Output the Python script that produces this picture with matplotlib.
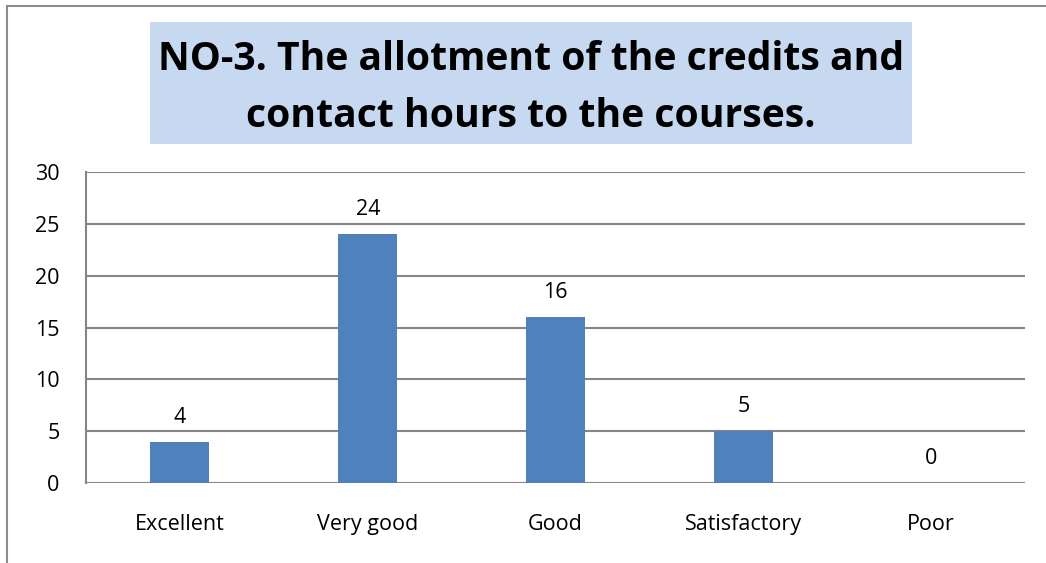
import numpy as np
import matplotlib
matplotlib.use('Agg')
import matplotlib.pyplot as plt
from matplotlib.patches import Rectangle

categories = ['Excellent', 'Very good', 'Good', 'Satisfactory', 'Poor']
counts = [4, 24, 16, 5, 0]
yticks = [0, 5, 10, 15, 20, 25, 30]
title = 'NO-3. The allotment of the credits and\ncontact hours to the courses.'

plt.rcParams['font.family'] = ['Open Sans', 'DejaVu Sans']

W, H = 1046, 563
fig = plt.figure(figsize=(W / 100, H / 100), dpi=100)

def px(x0, y0, x1, y1):
    # pixel box (top-left origin) -> figure fraction rect
    return [x0 / W, 1 - y1 / H, (x1 - x0) / W, (y1 - y0) / H]

# outer chart border (only left and top visible in the crop)
fig.patches.append(Rectangle((6.5 / W, -0.1), 1.2, 1 - 6.5 / H + 0.1,
                             transform=fig.transFigure, fill=False,
                             edgecolor='#8c8c8c', linewidth=1.5))

# title box
b = px(150, 22, 912, 144)
fig.patches.append(Rectangle((b[0], b[1]), b[2], b[3], transform=fig.transFigure,
                             facecolor='#c6d9f1', edgecolor='none'))
fig.text(531 / W, 1 - 88 / H, title, ha='center', va='center', fontsize=28.2,
         fontweight='bold', linespacing=1.6)

ax = fig.add_axes(px(86, 172, 1025, 483))
x = np.arange(len(categories))
bars = ax.bar(x, counts, width=0.315, color='#4f81bd', zorder=3)
for xi, v in zip(x, counts):
    ax.annotate(str(v), (xi, v), xytext=(0, 10), textcoords='offset points',
                ha='center', va='bottom', fontsize=15.5)

ax.set_xlim(-0.5, len(categories) - 0.5)
ax.set_ylim(0, 30)
ax.set_yticks(yticks)
ax.set_xticks(x)
ax.set_xticklabels(categories, fontsize=15.5)
ax.tick_params(axis='y', labelsize=15.5, length=0, pad=19)
ax.tick_params(axis='x', length=0, pad=22)
ax.grid(axis='y', color='#868686', linewidth=1.5, zorder=0)
for s in ['top', 'right', 'bottom']:
    ax.spines[s].set_visible(False)
ax.spines['left'].set_color('#868686')
ax.spines['left'].set_linewidth(1.5)

fig.savefig('out.png', dpi=100)
